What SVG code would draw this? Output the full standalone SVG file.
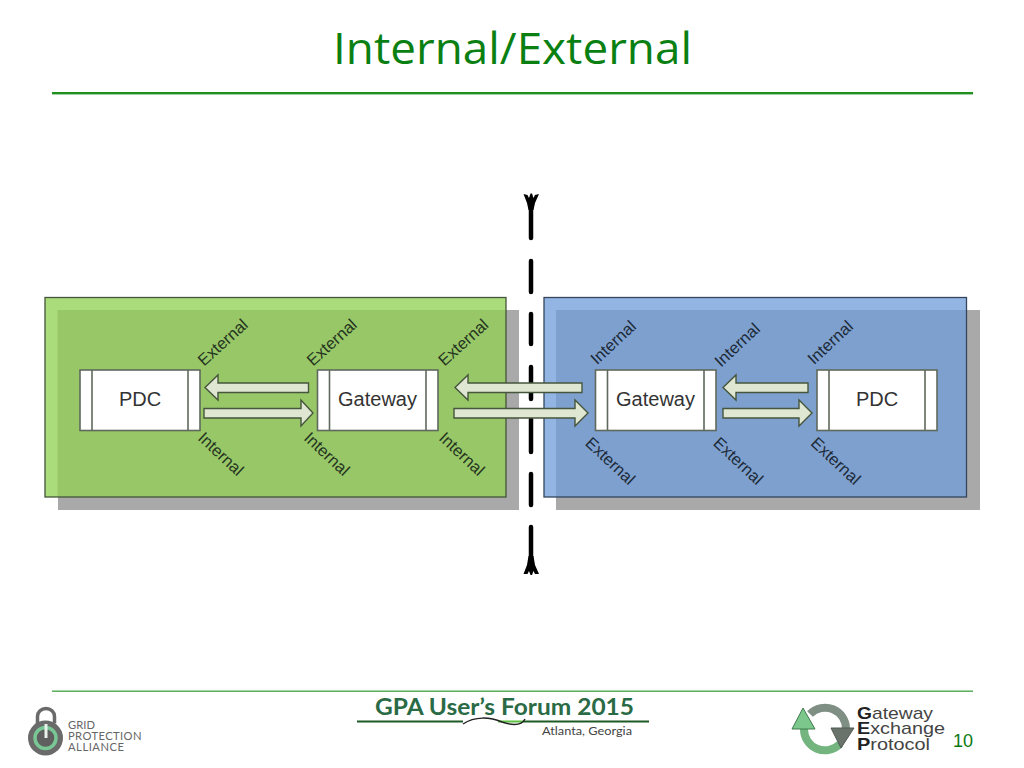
<svg xmlns="http://www.w3.org/2000/svg" width="1024" height="768" viewBox="0 0 1024 768">
<style>
text{font-family:"Liberation Sans",Arial,sans-serif}
.title{font-family:"Open Sans","Noto Sans",sans-serif;font-size:44px;fill:#0a7f12}
.shadow{fill:#a9a9a9}
.box{fill:#fff;stroke:#5f6a5c;stroke-width:1.6}
.div{stroke:#5f6a5c;stroke-width:1.6;fill:none}
.lbl{font-size:20px;fill:#333;text-anchor:middle}
.tag{font-size:16.500px;fill:#25351f;text-anchor:middle}
.tagb{font-size:16.500px;fill:#1c2a38;text-anchor:middle}
.arr{fill:#dfe6d2;stroke:#46563c;stroke-width:1.400;stroke-linejoin:miter}
.dash{stroke:#000;stroke-width:4.500;stroke-linecap:round;fill:none}
.gep{font-size:17px;fill:#444}
.gpa{font-size:11.200px;fill:#666;font-family:"Lato",sans-serif}
</style>
<text class="title" x="333" y="64" textLength="359" lengthAdjust="spacingAndGlyphs">Internal/External</text>
<rect x="52" y="92" width="921" height="2.400" fill="#1f8f1f"/>

<g id="zone-green">
<rect class="shadow" x="58" y="310" width="461" height="200"/>
<rect x="45" y="297.500" width="461" height="199.500" fill="#aadc7c"/>
<rect x="57.500" y="310" width="448.500" height="187" fill="#98c768"/>
<rect x="45" y="297.500" width="461" height="199.500" fill="none" stroke="#42543a" stroke-width="1.300"/>
</g>
<g id="zone-blue">
<rect class="shadow" x="556" y="310" width="424" height="200"/>
<rect x="544" y="297.500" width="422.500" height="199.500" fill="#93b5e3"/>
<rect x="556" y="310" width="410.500" height="187" fill="#7ea0ce"/>
<rect x="544" y="297.500" width="422.500" height="199.500" fill="none" stroke="#34465c" stroke-width="1.300"/>
</g>

<g id="boundary">
<path class="dash" d="M531 204V238M531 261V292M531 314V344M531 367V399M531 419V452M531 474V505M531 527V562"/>
<path d="M523.500 194L527.500 195L529 198L530.500 193.500H532L533.500 198L535 195L539 194L535 203L533.500 210H528.500L527 203Z" fill="#000"/>
<path d="M523.500 574L527.500 574L529 571L530.500 575H532L533.500 571L535 574L539 574L535 565L533.500 556H528.500L527 565Z" fill="#000"/>
</g>

<g id="pdc-left"><rect class="box" x="80" y="370" width="120" height="60.500"/><path class="div" d="M92 370V430.500M188 370V430.500"/><text class="lbl" x="140" y="405.500">PDC</text></g>
<g id="gateway-left"><rect class="box" x="317.500" y="370" width="120.500" height="60.500"/><path class="div" d="M329.500 370V430.500M426 370V430.500"/><text class="lbl" x="377.500" y="405.500">Gateway</text></g>
<g id="gateway-right"><rect class="box" x="595.500" y="370" width="120.500" height="60.500"/><path class="div" d="M607.500 370V430.500M704 370V430.500"/><text class="lbl" x="655.500" y="405.500">Gateway</text></g>
<g id="pdc-right"><rect class="box" x="817" y="370" width="120" height="60.500"/><path class="div" d="M829 370V430.500M925 370V430.500"/><text class="lbl" x="877" y="405.500">PDC</text></g>

<g id="connectors">
<path class="arr" d="M205 387.500L218 375V383H308.500V392.500H218V400Z"/>
<path class="arr" d="M204 408.500H301V400L313 413L301 426V418H204Z"/>
<path class="arr" d="M455 387.500L468 375V383H582V392.500H468V400Z"/>
<path class="arr" d="M454 408.500H575V400L588 413L575 426V418H454Z"/>
<path class="arr" d="M723 387.500L736 375V383H808V392.500H736V400Z"/>
<path class="arr" d="M723 408.500H799V400L812 413L799 426V418H723Z"/>
</g>

<g id="labels">
<text class="tag" transform="translate(226.500 346.500) rotate(-42)">External</text>
<text class="tag" transform="translate(335.500 346.500) rotate(-42)">External</text>
<text class="tag" transform="translate(467 346.500) rotate(-42)">External</text>
<text class="tag" transform="translate(217 458) rotate(43)">Internal</text>
<text class="tag" transform="translate(323 458) rotate(43)">Internal</text>
<text class="tag" transform="translate(458 458) rotate(43)">Internal</text>
<text class="tagb" transform="translate(617 346.500) rotate(-43)">Internal</text>
<text class="tagb" transform="translate(741 349) rotate(-43)">Internal</text>
<text class="tagb" transform="translate(834 346.500) rotate(-43)">Internal</text>
<text class="tagb" transform="translate(606.500 465) rotate(43)">External</text>
<text class="tagb" transform="translate(734.500 465) rotate(43)">External</text>
<text class="tagb" transform="translate(832 465) rotate(43)">External</text>
</g>

<rect x="52" y="690.500" width="921" height="1.400" fill="#4ea84e"/>

<g id="gpa-logo">
<path d="M37.500 723V716.500A8.500 8 0 0 1 54.500 716.500V723" fill="none" stroke="#6a6a6a" stroke-width="3.500"/>
<circle cx="45.500" cy="738" r="17.500" fill="#6a6a6a"/>
<circle cx="45.500" cy="738" r="10.500" fill="#5f5f5f" stroke="#79c795" stroke-width="3.500"/>
<path d="M46 724V738" stroke="#e8f2ea" stroke-width="3"/>
<text class="gpa" x="68" y="728.500" textLength="27">GRID</text>
<text class="gpa" x="68" y="740" textLength="73.500">PROTECTION</text>
<text class="gpa" x="68" y="751" textLength="56">ALLIANCE</text>
</g>

<g id="forum-logo">
<text x="375" y="715" font-size="22" font-weight="bold" fill="#2a6a45" textLength="259" lengthAdjust="spacingAndGlyphs" style="font-family:'Lato',sans-serif">GPA User’s Forum 2015</text>
<rect x="357" y="720.500" width="106" height="2" fill="#1f5a25"/>
<rect x="498" y="720.500" width="25" height="2" fill="#5cc040"/>
<rect x="523" y="720.500" width="126" height="2" fill="#1f5a25"/>
<path d="M463 724C475 716 490 717 502 722C514 726 522 725 525 719" fill="none" stroke="#222" stroke-width="1.500"/>
<text x="542" y="735" font-size="11.500" fill="#444" textLength="90" lengthAdjust="spacingAndGlyphs" style="font-family:'Lato',sans-serif">Atlanta, Georgia</text>
</g>

<g id="gep-logo">
<path d="M804 729A21 21 0 0 0 840 744" fill="none" stroke="#73b47f" stroke-width="8"/>
<path d="M810 714A21 21 0 0 1 846 729" fill="none" stroke="#7f8f84" stroke-width="8"/>
<path d="M803 708L792 729H815Z" fill="#7cc88c" stroke="#3f7a4f"/>
<path d="M841 748L831 728H854Z" fill="#69736b" stroke="#4f5a52"/>
<text class="gep" x="857" y="718.500" textLength="76" lengthAdjust="spacingAndGlyphs"><tspan font-weight="bold" fill="#222">G</tspan>ateway</text>
<text class="gep" x="857" y="734" textLength="88" lengthAdjust="spacingAndGlyphs"><tspan font-weight="bold" fill="#222">E</tspan>xchange</text>
<text class="gep" x="857" y="750" textLength="73" lengthAdjust="spacingAndGlyphs"><tspan font-weight="bold" fill="#222">P</tspan>rotocol</text>
</g>
<text x="953" y="747" font-size="18" fill="#0a7a10">10</text>
</svg>
